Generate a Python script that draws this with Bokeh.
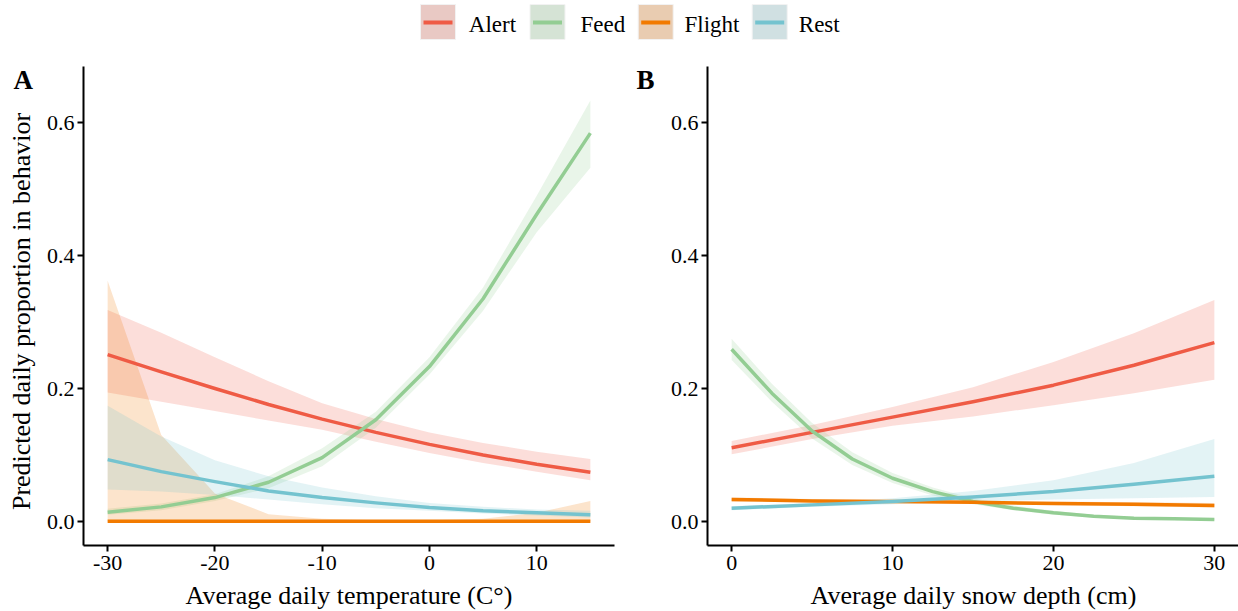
import math
from bokeh.plotting import figure
from bokeh.models import Range1d, FixedTicker, PrintfTickFormatter
from bokeh.layouts import column, row
from bokeh.embed import file_html
from bokeh.resources import INLINE
from bokeh.core.properties import value

FONT = "Liberation Serif"

# ---------------- data ----------------
behaviors = ["Alert", "Feed", "Flight", "Rest"]

# Panel A: average daily temperature
temperature = [-30, -25, -20, -15, -10, -5, 0, 5, 10, 15]
alert_temp = [0.251, 0.225, 0.200, 0.176, 0.154, 0.134, 0.116, 0.100, 0.086, 0.074]
alert_temp_lo = [0.194, 0.180, 0.166, 0.152, 0.138, 0.120, 0.103, 0.088, 0.075, 0.062]
alert_temp_hi = [0.318, 0.284, 0.247, 0.211, 0.178, 0.154, 0.134, 0.118, 0.105, 0.094]
feed_temp = [0.014, 0.022, 0.036, 0.059, 0.096, 0.153, 0.233, 0.335, 0.462, 0.584]
feed_temp_lo = [0.010, 0.017, 0.031, 0.050, 0.083, 0.141, 0.221, 0.317, 0.435, 0.532]
feed_temp_hi = [0.019, 0.027, 0.041, 0.068, 0.110, 0.165, 0.247, 0.352, 0.490, 0.633]
flight_temp = [0.0005, 0.0005, 0.0005, 0.0005, 0.0005, 0.0005, 0.0005, 0.0005, 0.0005, 0.0005]
flight_temp_lo = [0.0, 0.0, 0.0, 0.0, 0.0, 0.0, 0.0, 0.0, 0.0, 0.0]
flight_temp_hi = [0.362, 0.130, 0.042, 0.011, 0.004, 0.002, 0.002, 0.004, 0.013, 0.031]
rest_temp = [0.093, 0.075, 0.060, 0.046, 0.036, 0.028, 0.021, 0.016, 0.013, 0.010]
rest_temp_lo = [0.048, 0.045, 0.040, 0.033, 0.026, 0.020, 0.016, 0.012, 0.009, 0.006]
rest_temp_hi = [0.174, 0.128, 0.092, 0.068, 0.051, 0.038, 0.028, 0.022, 0.018, 0.016]

# Panel B: average daily snow depth
snow_depth = [0, 5, 10, 15, 20, 25, 30]
alert_snow = [0.111, 0.134, 0.157, 0.180, 0.205, 0.235, 0.269]
alert_snow_lo = [0.101, 0.124, 0.144, 0.158, 0.175, 0.193, 0.213]
alert_snow_hi = [0.121, 0.145, 0.172, 0.202, 0.240, 0.283, 0.333]
flight_snow = [0.033, 0.031, 0.030, 0.029, 0.027, 0.026, 0.024]
flight_snow_lo = [0.030, 0.029, 0.028, 0.027, 0.025, 0.023, 0.021]
flight_snow_hi = [0.036, 0.034, 0.032, 0.031, 0.030, 0.029, 0.028]
rest_snow = [0.020, 0.025, 0.030, 0.037, 0.045, 0.056, 0.068]
rest_snow_lo = [0.017, 0.022, 0.026, 0.030, 0.033, 0.035, 0.037]
rest_snow_hi = [0.023, 0.028, 0.035, 0.046, 0.062, 0.088, 0.124]
snow_depth_feed = [0, 2.5, 5, 7.5, 10, 12.5, 15, 17.5, 20, 22.5, 25, 27.5, 30]
feed_snow = [0.259, 0.193, 0.136, 0.094, 0.065, 0.045, 0.030, 0.020, 0.013, 0.008, 0.005, 0.004, 0.003]
feed_snow_lo = [0.243, 0.180, 0.125, 0.085, 0.058, 0.039, 0.026, 0.017, 0.010, 0.006, 0.004, 0.003, 0.002]
feed_snow_hi = [0.275, 0.207, 0.148, 0.104, 0.073, 0.051, 0.035, 0.024, 0.016, 0.010, 0.007, 0.005, 0.004]

y_ticks = [0.0, 0.2, 0.4, 0.6]
temp_ticks = [-30, -20, -10, 0, 10]
snow_ticks = [0, 10, 20, 30]

panel_letters = ["A", "B"]
y_title = "Predicted daily proportion in behavior"
x_titles = ["Average daily temperature (C°)", "Average daily snow depth (cm)"]

# ---------------- styles / layout ----------------
line_colors = {"Alert": "#EF5B45", "Feed": "#93CD93", "Flight": "#F27A00", "Rest": "#74C3CF"}
key_fills = {"Alert": "#E9C9C4", "Feed": "#D5E3D5", "Flight": "#E9CCB1", "Rest": "#D0E0E2"}
BAND_ALPHA = 0.2
LINE_W = 3.5

TOTAL_W, TOTAL_H = 1238, 611
LEG_H = 58            # legend strip: y 0..58
ROW_H = 522           # panels: y 58..580
BOT_H = TOTAL_H - LEG_H - ROW_H  # x-title strip: y 580..611
FRAME_TOP, FRAME_BOTTOM = 66.0, 545.0
Y_ZERO_PX, Y_PER_UNIT = 521.0, 665.0
y_start = (Y_ZERO_PX - FRAME_BOTTOM) / Y_PER_UNIT
y_end = (Y_ZERO_PX - FRAME_TOP) / Y_PER_UNIT

LEFT_STRIP_W = 40
A_FIG_W, A_BORDER_L, A_BORDER_R = 590, 43, 16     # frame 83..614
MID_STRIP_W = 30
B_FIG_W, B_BORDER_L, B_BORDER_R = TOTAL_W - 40 - 590 - 30, 47, 0   # frame 707..1238
A_X0, A_X1 = -32.25, 17.25
B_X0, B_X1 = -1.5, 31.5

# text is anchored on its middle; offset from the wanted baseline (Liberation Serif metrics)
MID_SHIFT = 0.3375
Y_TITLE_CENTER = 325.0   # along-axis anchor of the rotated title (compensates rotation anchor)
LETTER_BASELINE = 81.5


def mid_of(baseline, size):
    return baseline - MID_SHIFT * size


def strip(width, height, x0, y0):
    s = figure(width=width, height=height, x_range=Range1d(x0, x0 + width),
               y_range=Range1d(y0 + height, y0), output_backend="svg", toolbar_location=None,
               title=None, x_axis_location=None, y_axis_location=None,
               min_border=0, min_border_left=0, min_border_right=0, min_border_top=0,
               min_border_bottom=0)
    s.grid.visible = False
    s.outline_line_color = None
    return s


def make_panel(width, b_left, b_right, x0, x1, xticks):
    p = figure(width=width, height=ROW_H, x_range=Range1d(x0, x1), y_range=Range1d(y_start, y_end),
               output_backend="svg", toolbar_location=None, title=None,
               min_border_left=b_left, min_border_right=b_right,
               min_border_top=int(FRAME_TOP - LEG_H), min_border_bottom=int(LEG_H + ROW_H - FRAME_BOTTOM))
    p.grid.visible = False
    p.outline_line_color = None
    p.xaxis.ticker = FixedTicker(ticks=xticks)
    p.xaxis.formatter = PrintfTickFormatter(format="%d")
    p.yaxis.ticker = FixedTicker(ticks=y_ticks)
    p.yaxis.formatter = PrintfTickFormatter(format="%.1f")
    for ax in p.axis:
        ax.axis_line_color = "black"
        ax.axis_line_width = 2
        ax.major_tick_line_color = "black"
        ax.major_tick_line_width = 2
        ax.major_tick_out = 6
        ax.major_tick_in = 0
        ax.minor_tick_line_color = None
        ax.major_label_text_font = FONT
        ax.major_label_text_font_size = "22px"
        ax.major_label_text_color = "black"
    p.yaxis.major_label_standoff = 3
    p.xaxis.major_label_standoff = 4
    return p


pA = make_panel(A_FIG_W, A_BORDER_L, A_BORDER_R, A_X0, A_X1, temp_ticks)
pB = make_panel(B_FIG_W, B_BORDER_L, B_BORDER_R, B_X0, B_X1, snow_ticks)

seriesA = {
    "Alert": (temperature, alert_temp, alert_temp_lo, alert_temp_hi),
    "Feed": (temperature, feed_temp, feed_temp_lo, feed_temp_hi),
    "Flight": (temperature, flight_temp, flight_temp_lo, flight_temp_hi),
    "Rest": (temperature, rest_temp, rest_temp_lo, rest_temp_hi),
}
seriesB = {
    "Alert": (snow_depth, alert_snow, alert_snow_lo, alert_snow_hi),
    "Feed": (snow_depth_feed, feed_snow, feed_snow_lo, feed_snow_hi),
    "Flight": (snow_depth, flight_snow, flight_snow_lo, flight_snow_hi),
    "Rest": (snow_depth, rest_snow, rest_snow_lo, rest_snow_hi),
}

for p, series in ((pA, seriesA), (pB, seriesB)):
    for b in behaviors:
        x, y, lo, hi = series[b]
        p.varea(x=x, y1=lo, y2=hi, fill_color=line_colors[b], fill_alpha=BAND_ALPHA)
    for b in behaviors:
        x, y, lo, hi = series[b]
        p.line(x=x, y=y, line_color=line_colors[b], line_width=LINE_W, line_join="round")

# left strip: y-axis title + letter A
left = strip(LEFT_STRIP_W, ROW_H, 0, LEG_H)
left.text(x=[mid_of(30.0, 26)], y=[Y_TITLE_CENTER], text=[y_title], angle=math.pi / 2,
          text_font=value(FONT), text_font_size="26px", text_color="black",
          text_align="center", text_baseline="middle")
left.text(x=[13.0], y=[mid_of(LETTER_BASELINE, 27)], text=[panel_letters[0]], text_font=value(FONT),
          text_font_size="27px", text_font_style="bold", text_color="black",
          text_align="left", text_baseline="middle")

# middle strip: letter B
mid = strip(MID_STRIP_W, ROW_H, LEFT_STRIP_W + A_FIG_W, LEG_H)
mid.text(x=[636.0], y=[mid_of(LETTER_BASELINE, 27)], text=[panel_letters[1]], text_font=value(FONT),
         text_font_size="27px", text_font_style="bold", text_color="black",
         text_align="left", text_baseline="middle")

# bottom strip: x-axis titles
bot = strip(TOTAL_W, BOT_H, 0, LEG_H + ROW_H)
bot.text(x=[348.5, 973.0], y=[mid_of(603.5, 26)] * 2, text=x_titles, text_font=value(FONT),
         text_font_size="26px", text_color="black", text_align="center", text_baseline="middle")

# legend strip
leg = strip(TOTAL_W, LEG_H, 0, 0)
key_left = [420.0, 529.5, 637.7, 751.7]
label_left = [468.3, 580.0, 684.0, 798.3]
KEY_W, KEY_TOP, KEY_BOT, KEY_MID = 35.0, 4.0, 39.0, 22.0
leg.quad(left=key_left, right=[k + KEY_W for k in key_left], top=[KEY_TOP] * 4, bottom=[KEY_BOT] * 4,
         fill_color=[key_fills[b] for b in behaviors], line_color="#F2F2F2", line_width=1)
leg.segment(x0=[k + 3 for k in key_left], x1=[k + KEY_W - 3 for k in key_left],
            y0=[KEY_MID] * 4, y1=[KEY_MID] * 4, line_color=[line_colors[b] for b in behaviors],
            line_width=4)
leg.text(x=label_left, y=[mid_of(31.3, 23)] * 4, text=behaviors, text_font=value(FONT),
         text_font_size="23px", text_color="black", text_align="left", text_baseline="middle")

layout = column(leg, row(left, pA, mid, pB), bot)
open("out.html", "w").write(file_html(layout, INLINE))
